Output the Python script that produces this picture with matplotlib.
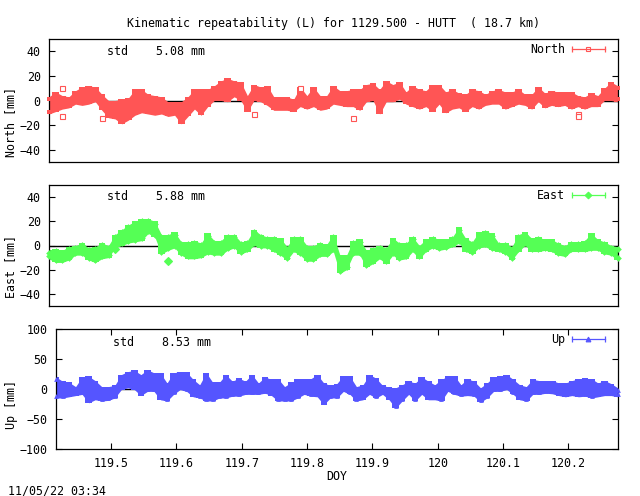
import numpy as np
import matplotlib
matplotlib.use("Agg")
import matplotlib.pyplot as plt
from matplotlib.lines import Line2D
from matplotlib.legend_handler import HandlerBase

MONO = "DejaVu Sans Mono"
FS = 8.4
plt.rcParams["font.family"] = MONO
plt.rcParams["font.size"] = FS

time_start = 119.4156
time_step = 0.01
n_samples = 87

north_hi = [3,7,4,3,8,11,12,11,5,0,0,1,2,9,9,5,4,3,-1,-1,-1,3,9,9,9,12,16,18,16,15,4,13,11,12,3,3,3,1,11,4,11,
            4,4,12,8,8,9,9,13,14,9,16,13,15,7,12,9,8,13,13,7,9,6,5,9,8,5,8,9,7,7,9,5,5,11,6,8,7,7,7,4,3,6,4,10,15,12]
north_lo = [-11,-9,-7,-6,-3,-4,-3,-1,-8,-14,-15,-19,-16,-12,-10,-11,-12,-11,-13,-12,-19,-13,-7,-12,-5,0,0,-1,3,0,-9,0,-1,-4,-8,-8,-8,-9,-5,-7,-5,
            -8,-7,-3,-4,-5,-5,-8,-1,0,-11,-1,-1,1,-3,-5,-7,-5,-9,-3,-10,-7,-6,-9,-5,-7,-4,-3,-3,-7,-5,-3,-4,-7,-1,-6,-4,-5,-4,-7,-5,-7,-5,-5,0,0,-1]
north_out_x = [119.4356, 119.4356, 119.4956, 119.7256, 119.7956, 119.8756, 120.2156, 120.2156]
north_out_y = [10, -13, -14, -11, 10, -14, -11, -13]

east_hi = [-4,-3,-4,-1,0,2,-2,-1,2,0,9,13,17,20,22,22,20,9,9,11,3,3,4,2,10,4,4,9,9,3,4,13,9,7,7,6,-1,7,7,0,0,
           2,1,9,-8,-8,4,5,-4,-2,0,-2,6,2,2,7,0,5,7,5,5,7,15,6,3,11,12,10,2,2,-1,9,11,6,7,5,5,2,0,3,3,4,10,5,3,0,-1]
east_lo = [-11,-14,-14,-12,-8,-8,-12,-14,-11,-10,-2,0,2,3,4,10,7,-7,-4,-2,-8,-11,-11,-10,-7,-8,-8,-4,-2,-7,-5,0,-2,-2,-5,-8,-12,-5,-8,-13,-13,
           -9,-9,-5,-23,-20,-8,-8,-18,-15,-11,-15,-8,-12,-11,-5,-11,-5,-2,-4,-3,-1,2,-5,-7,-2,-1,-4,-5,-7,-12,-5,0,-5,-5,-4,-5,-8,-9,-5,-5,-5,-4,-4,-7,-8,-12]
east_out_x = [119.5956, 119.5156]
east_out_y = [-13, -3]

up_hi = [20,13,11,4,20,21,14,4,4,6,24,29,31,24,32,27,26,10,27,29,28,16,7,27,11,11,24,13,18,13,24,10,20,16,17,4,11,16,16,17,24,
         10,6,9,22,21,4,7,24,18,6,3,2,7,13,10,20,13,7,16,21,22,7,17,13,2,10,20,21,24,16,7,4,16,14,14,14,10,10,14,17,18,17,10,14,9,2]
up_lo = [-15,-15,-13,-11,-9,-23,-18,-20,-19,-15,-1,2,-1,-11,-4,-4,-18,-20,-9,-1,-4,-13,-15,-20,-20,-15,-15,-12,-12,-9,-9,-9,-7,-11,-20,-20,-20,-15,-9,-12,-13,
         -26,-15,-15,-4,-9,-20,-18,-9,-15,-9,-18,-32,-20,-9,-20,-9,-18,-18,-20,-4,-9,-12,-11,-12,-22,-15,-4,-4,-1,-9,-18,-20,-9,-9,-7,-8,-11,-13,-11,-13,-12,-15,-13,-11,-11,-13]

panel_names = ["North", "East", "Up"]
std_values = ["5.08", "5.88", "8.53"]
y_ticks_small = [-40, -20, 0, 20, 40]
y_ticks_large = [-100, -50, 0, 50, 100]
x_ticks = [119.5, 119.6, 119.7, 119.8, 119.9, 120.0, 120.1, 120.2]
x_labels = ["119.5", "119.6", "119.7", "119.8", "119.9", "120", "120.1", "120.2"]

RED, GREEN, BLUE = "#ff5555", "#55ff55", "#5555ff"
W, H = 640, 496
x_min, x_max = 119.4156, 120.2761


class CappedHandler(HandlerBase):
    def create_artists(self, legend, orig, xd, yd, width, height, fontsize, trans):
        y = height / 2 - yd
        x0, x1 = -xd, -xd + width
        bar = Line2D([x0, x1], [y, y], color=orig.get_color(), lw=0.9, transform=trans,
                     marker="|", ms=5, mew=0.9)
        mid = Line2D([(x0 + x1) / 2], [y], color=orig.get_color(), transform=trans,
                     marker=orig.get_marker(), ms=3.4, mew=0.8, mfc=orig.get_markerfacecolor(), ls="none")
        return [bar, mid]


def panel(left, top, right, bottom, hi, lo, colour, marker, filled, ylim, yticks,
          name, std, ylab_xy, std_y, out_x=None, out_y=None):
    ax = fig.add_axes([left / W, 1 - bottom / H, (right - left) / W, (bottom - top) / H])
    x = time_start + np.arange(n_samples) * time_step
    hi = np.array(hi, float)
    lo = np.array(lo, float)
    ms = 3.4
    # half a marker in data units, so each marker's outer edge lands on the value read
    inset = (ms / 72 * 100 / 2) * (ylim[1] - ylim[0]) / (bottom - top)
    ax.axhline(0, color="black", lw=1.0, zorder=1)
    ax.fill_between(x, lo, hi, color=colour, lw=0, zorder=2, clip_on=False)
    ax.fill_between(x, lo, hi, step="mid", color=colour, lw=0, zorder=2, clip_on=False)
    for arr in (hi - inset, lo + inset):
        ax.plot(x, arr, ls="none", marker=marker, ms=ms, mew=0, mfc=colour, zorder=3, clip_on=False)
    if out_x:
        ax.plot(out_x, out_y, ls="none", marker=marker, ms=3.6, mew=0.8, mec=colour,
                mfc="white" if not filled else colour, zorder=4, clip_on=False)
    ax.set_xlim(x_min, x_max)
    ax.set_ylim(*ylim)
    ax.set_yticks(yticks)
    ax.set_yticklabels([str(v).replace("-", "\u2212") for v in yticks])
    ax.tick_params(axis="y", direction="in", left=True, right=True, length=4, width=0.8, pad=6)
    ax.set_xticks([])
    ax.set_ylabel(f"{name} [mm]", va="center")
    ax.yaxis.set_label_coords(*ylab_xy)
    for s in ax.spines.values():
        s.set_linewidth(0.9)
    std_x = (107 if left == 49 else 113) - left
    ax.text(std_x / (right - left), 1 - (std_y - top) / (bottom - top), f"std    {std} mm",
            transform=ax.transAxes, ha="left", va="center")
    handle = Line2D([], [], color=colour, marker=marker, mfc="none" if not filled else colour)
    ax.legend([handle], [name], handler_map={handle: CappedHandler()}, loc="upper right",
              bbox_to_anchor=(1 - 13 / (right - left), 1 - 4 / (bottom - top)), frameon=False,
              markerfirst=False, borderpad=0, borderaxespad=0, handlelength=2.83,
              handletextpad=0.6, fontsize=FS)
    return ax


fig = plt.figure(figsize=(W / 100, H / 100), dpi=100)

panel(49, 39, 618, 162, north_hi, north_lo, RED, "s", False, (-50, 50), y_ticks_small,
      panel_names[0], std_values[0], (-0.0668, 0.325), 51.5, north_out_x, north_out_y)
panel(49, 185, 618, 306, east_hi, east_lo, GREEN, "D", True, (-50, 50), y_ticks_small,
      panel_names[1], std_values[1], (-0.0668, 0.33), 197, east_out_x, east_out_y)
ax3 = panel(56, 329, 618, 449, up_hi, up_lo, BLUE, "^", True, (-100, 100), y_ticks_large,
            panel_names[2], std_values[2], (-0.08, 0.367), 342)
ax3.set_xticks(x_ticks)
ax3.set_xticklabels(x_labels)
ax3.tick_params(axis="x", direction="in", top=True, bottom=True, length=4, width=0.8, pad=6)
ax3.set_xlabel("DOY", labelpad=0)

fig.text(333.5 / W, 1 - 23 / H, "Kinematic repeatability (L) for 1129.500 - HUTT  ( 18.7 km)",
         ha="center", va="center")
fig.text(8 / W, 1 - 491 / H, "11/05/22 03:34", ha="left", va="center")

fig.savefig("out.png", dpi=100)
